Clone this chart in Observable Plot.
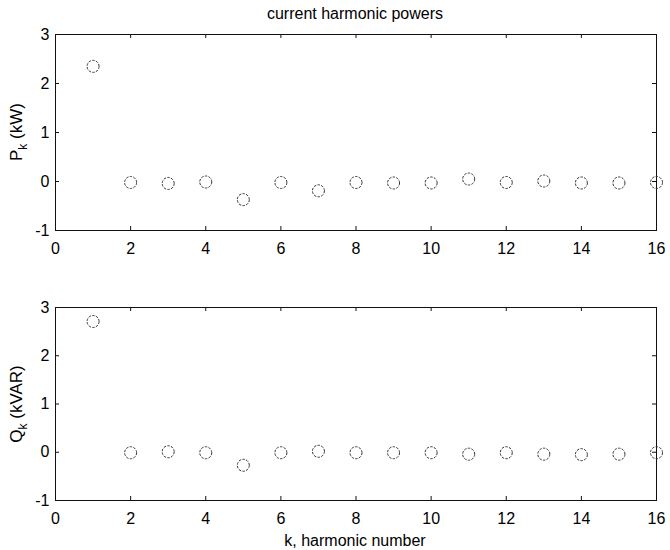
<!DOCTYPE html>
<html>
<head>
<meta charset="utf-8">
<script src="https://cdn.jsdelivr.net/npm/d3@7"></script>
<script src="https://cdn.jsdelivr.net/npm/@observablehq/plot@0.6"></script>
<style>
  body { margin: 0; background: #fff; }
  #chart { position: relative; width: 670px; height: 550px; background: #fff;
           font-family: "Liberation Sans", Arial, Helvetica, sans-serif; color: #000; }
  .panel { position: absolute; left: 0; }
  .lbl { position: absolute; white-space: nowrap; font-size: 16px; transform: translate(-50%, -50%); }
  .ylbl { transform: translate(-50%, -50%) rotate(-90deg); font-size: 17px; }
  .lbl sub { font-size: 12px; vertical-align: -5px; line-height: 0; }
</style>
</head>
<body>
<div id="chart"></div>
<script>
// Harmonic order k and the powers carried by each current harmonic
const harmonics = [1, 2, 3, 4, 5, 6, 7, 8, 9, 10, 11, 12, 13, 14, 15, 16];
const activePowerKW = [2.35, -0.02, -0.04, -0.01, -0.37, -0.02, -0.19, -0.02, -0.03, -0.03, 0.05, -0.02, 0.01, -0.03, -0.03, -0.02];
const reactivePowerKVAR = [2.71, -0.01, 0.01, -0.01, -0.27, -0.01, 0.02, -0.01, -0.01, -0.01, -0.04, -0.01, -0.04, -0.05, -0.04, -0.01];

// Axis ticks
const xTicks = [0, 2, 4, 6, 8, 10, 12, 14, 16];
const yTicks = [-1, 0, 1, 2, 3];

const WIDTH = 670, M_LEFT = 55, M_RIGHT = 14, TICK_LEN = 4;
const FONT = '"Liberation Sans", Arial, Helvetica, sans-serif';

// One boxed panel with inward ticks on all four sides and open circle markers
function panel(values, { height, marginTop, marginBottom }) {
  const innerW = WIDTH - M_LEFT - M_RIGHT;
  const innerH = height - marginTop - marginBottom;
  const rows = harmonics.map((k, i) => ({ k, v: values[i] }));
  const ink = "#111";
  return Plot.plot({
    width: WIDTH, height, marginTop, marginBottom, marginLeft: M_LEFT, marginRight: M_RIGHT,
    style: { fontFamily: FONT, fontSize: "16px", color: "#000", background: "#fff", overflow: "visible" },
    x: { domain: [0, 16] },
    y: { domain: [-1, 3] },
    marks: [
      Plot.axisX(xTicks, { tickSize: 0, tickPadding: 12, label: null, tickFormat: d => String(d) }),
      Plot.axisY(yTicks, { tickSize: 0, tickPadding: 6, label: null, tickFormat: d => String(d) }),
      Plot.tickX(xTicks, { x: d => d, insetTop: innerH - TICK_LEN, stroke: ink }),
      Plot.tickX(xTicks, { x: d => d, insetBottom: innerH - TICK_LEN, stroke: ink }),
      Plot.tickY(yTicks, { y: d => d, insetRight: innerW - TICK_LEN, stroke: ink }),
      Plot.tickY(yTicks, { y: d => d, insetLeft: innerW - TICK_LEN, stroke: ink }),
      Plot.frame({ stroke: ink, strokeWidth: 1 }),
      Plot.dot(rows, { x: "k", y: "v", r: 6, stroke: "#333", strokeWidth: 1, strokeDasharray: "2.5,1.3", fill: "none" })
    ]
  });
}

const chart = document.getElementById("chart");

function place(node, top) {
  const wrap = document.createElement("div");
  wrap.className = "panel";
  wrap.style.top = top + "px";
  wrap.appendChild(node);
  chart.appendChild(wrap);
}

function label(html, x, y, extraClass = "", size = null) {
  const el = document.createElement("div");
  el.className = "lbl " + extraClass;
  el.innerHTML = html;
  el.style.left = x + "px";
  el.style.top = y + "px";
  if (size) el.style.fontSize = size + "px";
  chart.appendChild(el);
}

place(panel(activePowerKW, { height: 262, marginTop: 34, marginBottom: 32 }), 0);
place(panel(reactivePowerKVAR, { height: 288, marginTop: 45, marginBottom: 50 }), 262);

label("current harmonic powers", 355, 14, "", 16);
label("P<sub>k</sub> (kW)", 17, 132, "ylbl");
label("Q<sub>k</sub> (kVAR)", 17, 404, "ylbl");
label("k, harmonic number", 355, 541);
</script>
</body>
</html>
